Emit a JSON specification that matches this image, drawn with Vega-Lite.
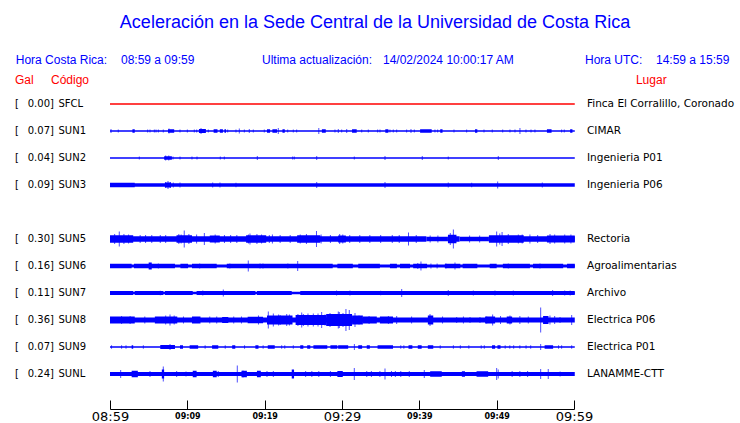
{
"$schema": "https://vega.github.io/schema/vega-lite/v6.json",
"width": 464,
"height": 297,
"autosize": {"type": "none"},
"padding": {"left": 110, "top": 90.5, "right": 166, "bottom": 35.5},
"background": "white",
"title": {"text": "Aceleración en la Sede Central de la Universidad de Costa Rica", "color": "#0000ff", "font": "Liberation Sans", "fontSize": 18, "fontWeight": "normal", "anchor": "middle", "frame": "group", "dx": 33, "offset": 22},
"config": {"view": {"stroke": null}, "font": "DejaVu Sans"},
"datasets": {
"seg": [
{"s":"SFCL","t0":0,"t1":60.1,"a":1.3},
{"s":"SUN1","t0":0,"t1":60.1,"a":1.5},{"s":"SUN1","t0":2.9,"t1":3.2,"a":3.5},{"s":"SUN1","t0":7.5,"t1":8.3,"a":3.5},{"s":"SUN1","t0":11.5,"t1":12.4,"a":4},{"s":"SUN1","t0":13.4,"t1":13.9,"a":3.5},{"s":"SUN1","t0":14.2,"t1":14.6,"a":3.5},{"s":"SUN1","t0":14.8,"t1":15.0,"a":3.5},{"s":"SUN1","t0":20.3,"t1":20.7,"a":3.5},{"s":"SUN1","t0":21.0,"t1":21.6,"a":3.5},{"s":"SUN1","t0":22.3,"t1":22.6,"a":3.5},{"s":"SUN1","t0":27.4,"t1":27.9,"a":3.5},{"s":"SUN1","t0":31.3,"t1":31.9,"a":3.5},{"s":"SUN1","t0":35.6,"t1":36.0,"a":3.5},{"s":"SUN1","t0":40.1,"t1":41.6,"a":3.5},{"s":"SUN1","t0":42.7,"t1":43.0,"a":3.5},{"s":"SUN1","t0":47.2,"t1":47.5,"a":3.5},{"s":"SUN1","t0":56.5,"t1":57.1,"a":3.5},{"s":"SUN1","t0":59.5,"t1":59.8,"a":3.5},
{"s":"SUN2","t0":0,"t1":60.1,"a":1.3},{"s":"SUN2","t0":7.0,"t1":8.0,"a":3.5},
{"s":"SUN3","t0":0,"t1":60.1,"a":3.5},{"s":"SUN3","t0":0,"t1":3.2,"a":4.5},{"s":"SUN3","t0":7.1,"t1":7.9,"a":5},
{"s":"SUN5","t0":0,"t1":40.9,"a":5.5},{"s":"SUN5","t0":40.9,"t1":43.7,"a":4.5},{"s":"SUN5","t0":43.7,"t1":45.2,"a":5.5},{"s":"SUN5","t0":45.2,"t1":49.0,"a":4.5},{"s":"SUN5","t0":49.0,"t1":60.1,"a":5.5},{"s":"SUN5","t0":0,"t1":3.0,"a":7.5},{"s":"SUN5","t0":8.6,"t1":10.6,"a":7.5},{"s":"SUN5","t0":12.9,"t1":14.2,"a":7},{"s":"SUN5","t0":17.6,"t1":20.2,"a":7.5},{"s":"SUN5","t0":24.2,"t1":27.2,"a":7.5},{"s":"SUN5","t0":29.5,"t1":30.5,"a":7},{"s":"SUN5","t0":43.7,"t1":44.8,"a":8.5},{"s":"SUN5","t0":49.0,"t1":53.5,"a":7.5},{"s":"SUN5","t0":56.5,"t1":60.1,"a":7},
{"s":"SUN6","t0":0,"t1":60.1,"a":3},{"s":"SUN6","t0":0,"t1":2.8,"a":4.5},{"s":"SUN6","t0":3.1,"t1":8.4,"a":4.5},{"s":"SUN6","t0":9.1,"t1":10.1,"a":4.5},{"s":"SUN6","t0":10.6,"t1":13.8,"a":4.5},{"s":"SUN6","t0":15.1,"t1":28.8,"a":4.5},{"s":"SUN6","t0":29.4,"t1":31.4,"a":4.5},{"s":"SUN6","t0":32.1,"t1":34.9,"a":4.5},{"s":"SUN6","t0":36.2,"t1":37.1,"a":4.5},{"s":"SUN6","t0":37.5,"t1":38.8,"a":4.5},{"s":"SUN6","t0":39.2,"t1":41.0,"a":4.5},{"s":"SUN6","t0":43.3,"t1":45.3,"a":4.5},{"s":"SUN6","t0":45.6,"t1":47.5,"a":4.5},{"s":"SUN6","t0":49.1,"t1":50.0,"a":4.5},{"s":"SUN6","t0":50.8,"t1":54.3,"a":4.5},{"s":"SUN6","t0":54.7,"t1":58.6,"a":4.5},{"s":"SUN6","t0":59.1,"t1":60.1,"a":4.5},{"s":"SUN6","t0":5.0,"t1":5.4,"a":7},
{"s":"SUN7","t0":0,"t1":60.1,"a":2.5},{"s":"SUN7","t0":0,"t1":3.0,"a":4},{"s":"SUN7","t0":3.2,"t1":6.9,"a":4},{"s":"SUN7","t0":7.1,"t1":10.7,"a":4},{"s":"SUN7","t0":11.2,"t1":18.8,"a":4},{"s":"SUN7","t0":19.0,"t1":23.5,"a":4},{"s":"SUN7","t0":24.6,"t1":60.1,"a":4},
{"s":"SUN8","t0":0,"t1":60.1,"a":5},{"s":"SUN8","t0":0,"t1":3.2,"a":7},{"s":"SUN8","t0":5.8,"t1":8.7,"a":7},{"s":"SUN8","t0":10.6,"t1":11.7,"a":7},{"s":"SUN8","t0":14.5,"t1":15.3,"a":6},{"s":"SUN8","t0":17.8,"t1":19.8,"a":6.5},{"s":"SUN8","t0":20.3,"t1":23.6,"a":9},{"s":"SUN8","t0":24.0,"t1":28.0,"a":10},{"s":"SUN8","t0":28.0,"t1":31.3,"a":12},{"s":"SUN8","t0":31.3,"t1":32.7,"a":9},{"s":"SUN8","t0":32.7,"t1":34.5,"a":7},{"s":"SUN8","t0":34.9,"t1":36.6,"a":7},{"s":"SUN8","t0":41.1,"t1":41.8,"a":9},{"s":"SUN8","t0":48.5,"t1":49.8,"a":7},{"s":"SUN8","t0":51.3,"t1":52.0,"a":7},{"s":"SUN8","t0":56.0,"t1":56.7,"a":8},
{"s":"SUN9","t0":0,"t1":60.1,"a":1.5},{"s":"SUN9","t0":2.8,"t1":3.0,"a":3.5},{"s":"SUN9","t0":6.5,"t1":8.4,"a":4},{"s":"SUN9","t0":9.05,"t1":9.44,"a":3.5},{"s":"SUN9","t0":10.3,"t1":11.4,"a":3.5},{"s":"SUN9","t0":13.2,"t1":14.0,"a":3.5},{"s":"SUN9","t0":15.8,"t1":16.2,"a":3.5},{"s":"SUN9","t0":18.8,"t1":19.2,"a":3.5},{"s":"SUN9","t0":20.4,"t1":21.3,"a":3.5},{"s":"SUN9","t0":24.6,"t1":25.0,"a":3.5},{"s":"SUN9","t0":25.5,"t1":25.9,"a":3.5},{"s":"SUN9","t0":26.3,"t1":28.1,"a":3.5},{"s":"SUN9","t0":28.5,"t1":29.4,"a":3.5},{"s":"SUN9","t0":29.5,"t1":30.8,"a":3.5},{"s":"SUN9","t0":32.1,"t1":32.6,"a":3.5},{"s":"SUN9","t0":33.2,"t1":33.6,"a":3.5},{"s":"SUN9","t0":34.6,"t1":36.6,"a":3.5},{"s":"SUN9","t0":38.6,"t1":39.1,"a":3.5},{"s":"SUN9","t0":39.8,"t1":40.3,"a":3.5},{"s":"SUN9","t0":41.1,"t1":41.8,"a":3.5},{"s":"SUN9","t0":49.4,"t1":49.8,"a":3.5},{"s":"SUN9","t0":50.1,"t1":50.5,"a":3.5},{"s":"SUN9","t0":56.2,"t1":57.3,"a":3.5},
{"s":"SUNL","t0":0,"t1":60.1,"a":4},{"s":"SUNL","t0":2.8,"t1":3.6,"a":6.5},{"s":"SUNL","t0":6.7,"t1":7.0,"a":9},{"s":"SUNL","t0":10.7,"t1":11.2,"a":6.5},{"s":"SUNL","t0":13.3,"t1":13.8,"a":6.5},{"s":"SUNL","t0":17.0,"t1":17.7,"a":6.5},{"s":"SUNL","t0":19.0,"t1":19.5,"a":6.5},{"s":"SUNL","t0":23.5,"t1":23.8,"a":9},{"s":"SUNL","t0":29.4,"t1":30.1,"a":6},{"s":"SUNL","t0":41.4,"t1":42.9,"a":5.5},{"s":"SUNL","t0":45.5,"t1":45.9,"a":5.5},{"s":"SUNL","t0":47.4,"t1":48.9,"a":5.5}
],
"spk": [
{"s":"SUN1","t":0.13,"a":4},{"s":"SUN1","t":1.07,"a":3},{"s":"SUN1","t":4.87,"a":3},{"s":"SUN1","t":5.17,"a":3},{"s":"SUN1","t":5.73,"a":3},{"s":"SUN1","t":5.95,"a":3},{"s":"SUN1","t":6.25,"a":3},{"s":"SUN1","t":6.89,"a":3},{"s":"SUN1","t":7.63,"a":5},{"s":"SUN1","t":9.05,"a":3},{"s":"SUN1","t":10.0,"a":3},{"s":"SUN1","t":10.9,"a":3},{"s":"SUN1","t":11.21,"a":3},{"s":"SUN1","t":11.77,"a":6},{"s":"SUN1","t":12.71,"a":3},{"s":"SUN1","t":15.22,"a":3},{"s":"SUN1","t":16.29,"a":3},{"s":"SUN1","t":16.72,"a":5},{"s":"SUN1","t":17.37,"a":3},{"s":"SUN1","t":18.01,"a":4},{"s":"SUN1","t":18.53,"a":3},{"s":"SUN1","t":19.95,"a":3},{"s":"SUN1","t":21.76,"a":6},{"s":"SUN1","t":22.98,"a":3},{"s":"SUN1","t":23.7,"a":3},{"s":"SUN1","t":24.14,"a":3},{"s":"SUN1","t":27.0,"a":6},{"s":"SUN1","t":29.09,"a":3},{"s":"SUN1","t":29.52,"a":4},{"s":"SUN1","t":29.96,"a":3},{"s":"SUN1","t":30.61,"a":4},{"s":"SUN1","t":32.55,"a":3},{"s":"SUN1","t":33.4,"a":3},{"s":"SUN1","t":34.61,"a":3},{"s":"SUN1","t":34.91,"a":3},{"s":"SUN1","t":36.2,"a":3},{"s":"SUN1","t":36.63,"a":3},{"s":"SUN1","t":37.07,"a":3},{"s":"SUN1","t":38.36,"a":3},{"s":"SUN1","t":38.92,"a":4},{"s":"SUN1","t":39.35,"a":3},{"s":"SUN1","t":42.02,"a":3},{"s":"SUN1","t":42.37,"a":3},{"s":"SUN1","t":44.48,"a":3},{"s":"SUN1","t":46.12,"a":3},{"s":"SUN1","t":48.36,"a":3},{"s":"SUN1","t":49.43,"a":3},{"s":"SUN1","t":50.78,"a":3},{"s":"SUN1","t":51.72,"a":3},{"s":"SUN1","t":52.37,"a":3},{"s":"SUN1","t":53.01,"a":6},{"s":"SUN1","t":53.79,"a":3},{"s":"SUN1","t":54.44,"a":3},{"s":"SUN1","t":54.95,"a":3},{"s":"SUN1","t":58.4,"a":3},{"s":"SUN1","t":58.74,"a":3},
{"s":"SUN2","t":3.79,"a":3},{"s":"SUN2","t":7.2,"a":5},{"s":"SUN2","t":7.6,"a":5},{"s":"SUN2","t":8.15,"a":3},{"s":"SUN2","t":9.05,"a":3},{"s":"SUN2","t":10.6,"a":3},{"s":"SUN2","t":11.25,"a":3},{"s":"SUN2","t":14.26,"a":3},{"s":"SUN2","t":14.78,"a":3},{"s":"SUN2","t":19.05,"a":4},{"s":"SUN2","t":23.62,"a":3},{"s":"SUN2","t":23.83,"a":3},{"s":"SUN2","t":26.73,"a":4},{"s":"SUN2","t":31.59,"a":3},{"s":"SUN2","t":35.56,"a":4},{"s":"SUN2","t":40.38,"a":4},{"s":"SUN2","t":43.74,"a":3},{"s":"SUN2","t":50.21,"a":4},
{"s":"SUN3","t":7.2,"a":6},{"s":"SUN3","t":7.5,"a":8},{"s":"SUN3","t":7.8,"a":6},{"s":"SUN3","t":8.18,"a":5},{"s":"SUN3","t":9.05,"a":5},{"s":"SUN3","t":13.28,"a":5},{"s":"SUN3","t":14.22,"a":5},{"s":"SUN3","t":16.29,"a":4.5},{"s":"SUN3","t":26.73,"a":6},{"s":"SUN3","t":35.56,"a":6},{"s":"SUN3","t":43.74,"a":5},{"s":"SUN3","t":46.77,"a":4.5},{"s":"SUN3","t":50.13,"a":7},{"s":"SUN3","t":55.9,"a":5},
{"s":"SUN5","t":1.2,"a":15},{"s":"SUN5","t":9.6,"a":17},{"s":"SUN5","t":12.2,"a":12},{"s":"SUN5","t":18.1,"a":11},{"s":"SUN5","t":26.7,"a":16},{"s":"SUN5","t":38.6,"a":13},{"s":"SUN5","t":44.4,"a":19},{"s":"SUN5","t":50.0,"a":15},{"s":"SUN5","t":50.7,"a":14},{"s":"SUN5","t":56.9,"a":10},{"s":"SUN5","t":0.6,"a":10},{"s":"SUN5","t":1.8,"a":10},{"s":"SUN5","t":2.4,"a":9},{"s":"SUN5","t":3.9,"a":8},{"s":"SUN5","t":6.5,"a":8},{"s":"SUN5","t":8.9,"a":10},{"s":"SUN5","t":9.2,"a":9},{"s":"SUN5","t":10.2,"a":10},{"s":"SUN5","t":13.6,"a":9},{"s":"SUN5","t":15.6,"a":8},{"s":"SUN5","t":17.9,"a":9},{"s":"SUN5","t":19.0,"a":10},{"s":"SUN5","t":19.6,"a":9},{"s":"SUN5","t":21.0,"a":9},{"s":"SUN5","t":22.0,"a":8},{"s":"SUN5","t":24.6,"a":9},{"s":"SUN5","t":25.4,"a":10},{"s":"SUN5","t":27.3,"a":9},{"s":"SUN5","t":28.5,"a":8},{"s":"SUN5","t":29.7,"a":10},{"s":"SUN5","t":30.1,"a":9},{"s":"SUN5","t":32.3,"a":8},{"s":"SUN5","t":35.0,"a":8},{"s":"SUN5","t":36.5,"a":8},{"s":"SUN5","t":41.4,"a":7},{"s":"SUN5","t":44.0,"a":12},{"s":"SUN5","t":46.5,"a":7},{"s":"SUN5","t":50.4,"a":11},{"s":"SUN5","t":51.5,"a":10},{"s":"SUN5","t":52.8,"a":9},{"s":"SUN5","t":54.3,"a":9},{"s":"SUN5","t":57.5,"a":9},{"s":"SUN5","t":58.8,"a":9},{"s":"SUN5","t":59.6,"a":9},{"s":"SUN5","t":4.6,"a":8},{"s":"SUN5","t":5.4,"a":8},{"s":"SUN5","t":7.2,"a":8},{"s":"SUN5","t":11.2,"a":9},{"s":"SUN5","t":14.8,"a":8},{"s":"SUN5","t":16.4,"a":8},{"s":"SUN5","t":20.6,"a":8},{"s":"SUN5","t":23.3,"a":8},{"s":"SUN5","t":31.0,"a":8},{"s":"SUN5","t":33.6,"a":8},{"s":"SUN5","t":37.4,"a":8},{"s":"SUN5","t":39.6,"a":8},{"s":"SUN5","t":42.4,"a":7},{"s":"SUN5","t":47.8,"a":7},{"s":"SUN5","t":53.3,"a":9},{"s":"SUN5","t":55.3,"a":8},
{"s":"SUN6","t":6.25,"a":5},{"s":"SUN6","t":17.88,"a":11},{"s":"SUN6","t":19.4,"a":5},{"s":"SUN6","t":19.78,"a":5},{"s":"SUN6","t":24.27,"a":10},{"s":"SUN6","t":39.8,"a":6},{"s":"SUN6","t":40.21,"a":9},{"s":"SUN6","t":41.5,"a":5},{"s":"SUN6","t":42.3,"a":5},{"s":"SUN6","t":43.44,"a":5},{"s":"SUN6","t":44.61,"a":7},{"s":"SUN6","t":11.6,"a":5},{"s":"SUN6","t":15.5,"a":5},{"s":"SUN6","t":23.0,"a":5},{"s":"SUN6","t":51.5,"a":5},{"s":"SUN6","t":55.6,"a":5},
{"s":"SUN7","t":14.65,"a":7},{"s":"SUN7","t":12.0,"a":5},{"s":"SUN7","t":6.5,"a":4.5},{"s":"SUN7","t":31.03,"a":5},{"s":"SUN7","t":37.72,"a":8},{"s":"SUN7","t":43.74,"a":6},{"s":"SUN7","t":46.98,"a":5},{"s":"SUN7","t":49.78,"a":5},{"s":"SUN7","t":52.15,"a":5},{"s":"SUN7","t":57.24,"a":6},{"s":"SUN7","t":58.8,"a":5},{"s":"SUN7","t":59.5,"a":5},{"s":"SUN7","t":29.3,"a":5},{"s":"SUN7","t":35.0,"a":4.5},
{"s":"SUN8","t":7.76,"a":11},{"s":"SUN8","t":7.2,"a":9},{"s":"SUN8","t":8.3,"a":9},{"s":"SUN8","t":20.47,"a":17},{"s":"SUN8","t":21.12,"a":13},{"s":"SUN8","t":22.85,"a":12},{"s":"SUN8","t":24.79,"a":15},{"s":"SUN8","t":25.0,"a":12},{"s":"SUN8","t":26.29,"a":13},{"s":"SUN8","t":26.9,"a":13},{"s":"SUN8","t":27.37,"a":16},{"s":"SUN8","t":27.8,"a":11},{"s":"SUN8","t":28.45,"a":14},{"s":"SUN8","t":29.52,"a":17},{"s":"SUN8","t":29.65,"a":16},{"s":"SUN8","t":30.13,"a":14},{"s":"SUN8","t":30.51,"a":22},{"s":"SUN8","t":30.94,"a":20},{"s":"SUN8","t":31.68,"a":14},{"s":"SUN8","t":32.2,"a":9},{"s":"SUN8","t":37.07,"a":8},{"s":"SUN8","t":41.38,"a":12},{"s":"SUN8","t":44.83,"a":6},{"s":"SUN8","t":46.55,"a":6},{"s":"SUN8","t":47.84,"a":6},{"s":"SUN8","t":48.71,"a":7},{"s":"SUN8","t":49.48,"a":11},{"s":"SUN8","t":51.72,"a":9},{"s":"SUN8","t":54.09,"a":7},{"s":"SUN8","t":55.69,"a":25},{"s":"SUN8","t":56.89,"a":9},{"s":"SUN8","t":58.19,"a":6},{"s":"SUN8","t":59.7,"a":10},{"s":"SUN8","t":1.5,"a":8},{"s":"SUN8","t":2.6,"a":8},{"s":"SUN8","t":16.0,"a":7},{"s":"SUN8","t":12.9,"a":7},{"s":"SUN8","t":22.0,"a":10},{"s":"SUN8","t":23.2,"a":11},{"s":"SUN8","t":4.5,"a":7},{"s":"SUN8","t":9.5,"a":7},{"s":"SUN8","t":13.8,"a":7},{"s":"SUN8","t":17.0,"a":7},{"s":"SUN8","t":19.2,"a":9},{"s":"SUN8","t":33.5,"a":8},{"s":"SUN8","t":36.0,"a":8},{"s":"SUN8","t":39.0,"a":7},{"s":"SUN8","t":43.0,"a":7},{"s":"SUN8","t":45.7,"a":7},{"s":"SUN8","t":50.5,"a":8},{"s":"SUN8","t":53.0,"a":8},{"s":"SUN8","t":57.5,"a":8},{"s":"SUN8","t":21.8,"a":11},{"s":"SUN8","t":24.3,"a":12},{"s":"SUN8","t":25.6,"a":13},{"s":"SUN8","t":28.0,"a":12},
{"s":"SUN9","t":0.2,"a":3.5},{"s":"SUN9","t":1.5,"a":3.5},{"s":"SUN9","t":2.07,"a":3.5},{"s":"SUN9","t":4.31,"a":3.5},{"s":"SUN9","t":7.76,"a":6},{"s":"SUN9","t":12.3,"a":3.5},{"s":"SUN9","t":14.9,"a":3.5},{"s":"SUN9","t":17.4,"a":3.5},{"s":"SUN9","t":19.8,"a":3.5},{"s":"SUN9","t":22.2,"a":3.5},{"s":"SUN9","t":22.6,"a":3.5},{"s":"SUN9","t":23.7,"a":3.5},{"s":"SUN9","t":31.6,"a":6},{"s":"SUN9","t":37.6,"a":3.5},{"s":"SUN9","t":38.0,"a":3.5},{"s":"SUN9","t":42.7,"a":3.5},{"s":"SUN9","t":44.4,"a":3.5},{"s":"SUN9","t":45.3,"a":3.5},{"s":"SUN9","t":46.4,"a":3.5},{"s":"SUN9","t":48.0,"a":3.5},{"s":"SUN9","t":48.4,"a":3.5},{"s":"SUN9","t":51.1,"a":3.5},{"s":"SUN9","t":51.7,"a":3.5},{"s":"SUN9","t":52.2,"a":3.5},{"s":"SUN9","t":53.0,"a":3.5},{"s":"SUN9","t":53.8,"a":3.5},{"s":"SUN9","t":54.4,"a":3.5},{"s":"SUN9","t":55.69,"a":6},{"s":"SUN9","t":58.0,"a":3.5},{"s":"SUN9","t":58.4,"a":3.5},{"s":"SUN9","t":59.7,"a":3.5},
{"s":"SUNL","t":1.38,"a":8},{"s":"SUNL","t":5.17,"a":6},{"s":"SUNL","t":6.89,"a":15},{"s":"SUNL","t":8.62,"a":6},{"s":"SUNL","t":9.83,"a":5},{"s":"SUNL","t":14.0,"a":6},{"s":"SUNL","t":16.46,"a":17},{"s":"SUNL","t":17.2,"a":7},{"s":"SUNL","t":20.3,"a":6},{"s":"SUNL","t":21.12,"a":6},{"s":"SUNL","t":25.3,"a":6},{"s":"SUNL","t":26.1,"a":6},{"s":"SUNL","t":27.0,"a":6},{"s":"SUNL","t":28.5,"a":6},{"s":"SUNL","t":31.59,"a":12},{"s":"SUNL","t":33.2,"a":6},{"s":"SUNL","t":33.8,"a":6},{"s":"SUNL","t":34.9,"a":6},{"s":"SUNL","t":35.56,"a":11},{"s":"SUNL","t":36.4,"a":6},{"s":"SUNL","t":36.9,"a":6},{"s":"SUNL","t":37.6,"a":6},{"s":"SUNL","t":38.7,"a":6},{"s":"SUNL","t":40.64,"a":8},{"s":"SUNL","t":50.0,"a":12},{"s":"SUNL","t":50.2,"a":9},{"s":"SUNL","t":52.0,"a":6},{"s":"SUNL","t":53.0,"a":6},{"s":"SUNL","t":54.0,"a":6},{"s":"SUNL","t":55.69,"a":10},{"s":"SUNL","t":56.67,"a":10},{"s":"SUNL","t":58.2,"a":5}
],
"st": [
{"s":"SFCL","gal":0.00,"place":"Finca El Corralillo, Coronado"},
{"s":"SUN1","gal":0.07,"place":"CIMAR"},
{"s":"SUN2","gal":0.04,"place":"Ingenieria P01"},
{"s":"SUN3","gal":0.09,"place":"Ingenieria P06"},
{"s":"SUN5","gal":0.30,"place":"Rectoria"},
{"s":"SUN6","gal":0.16,"place":"Agroalimentarias"},
{"s":"SUN7","gal":0.11,"place":"Archivo"},
{"s":"SUN8","gal":0.36,"place":"Electrica P06"},
{"s":"SUN9","gal":0.07,"place":"Electrica P01"},
{"s":"SUNL","gal":0.24,"place":"LANAMME-CTT"}
]
},
"resolve": {"scale": {"y": "independent"}},
"layer": [
{
"layer": [
{
"data": {"name": "seg"},
"mark": {"type": "bar", "orient": "horizontal"},
"encoding": {
"x": {"field": "t0", "type": "quantitative", "scale": {"domain": [0, 60], "nice": false, "zero": false},
"axis": {"title": null, "values": [0,5,10,15,20,25,30,35,40,45,50,55,60], "labelExpr": "datum.value % 10 === 0 ? timeFormat(datetime(2024, 1, 14, 8, 59 + datum.value), '%H:%M') : ''", "tickSize": -9, "tickColor": "black", "domainColor": "black", "labelColor": "black", "labelFont": "DejaVu Sans", "labelFontSize": {"condition": {"test": "datum.value % 30 === 0", "value": 13}, "value": 8}, "labelFontWeight": {"condition": {"test": "datum.value % 30 === 0", "value": "normal"}, "value": "bold"}, "labelBaseline": "middle", "labelPadding": 16, "offset": 21.5, "grid": false, "labelFlush": false, "labelOverlap": false}},
"x2": {"field": "t1"},
"y": {"field": "s", "type": "nominal", "scale": {"type": "band", "domain": ["SFCL","SUN1","SUN2","SUN3","SUN4","SUN5","SUN6","SUN7","SUN8","SUN9","SUNL"], "paddingInner": 0, "paddingOuter": 0}, "axis": null},
"size": {"field": "a", "type": "quantitative", "scale": {"domain": [0, 30], "range": [0, 30]}, "legend": null},
"color": {"condition": {"test": "datum.s === 'SFCL'", "value": "#ff0000"}, "value": "#0000ff"}
}
},
{
"data": {"name": "spk"},
"mark": {"type": "tick", "orient": "vertical", "thickness": 1},
"encoding": {
"x": {"field": "t", "type": "quantitative"},
"y": {"field": "s", "type": "nominal"},
"size": {"field": "a", "type": "quantitative", "legend": null},
"color": {"value": "#0000ff"}
}
},
{
"data": {"name": "st"},
"mark": {"type": "text", "align": "left", "baseline": "middle", "font": "DejaVu Sans", "fontSize": 10, "color": "black"},
"encoding": {"x": {"datum": -12.28, "type": "quantitative"}, "y": {"field": "s", "type": "nominal"}, "text": {"value": "["}}
},
{
"data": {"name": "st"},
"mark": {"type": "text", "align": "right", "baseline": "middle", "font": "DejaVu Sans", "fontSize": 10, "color": "black"},
"encoding": {"x": {"datum": -7.76, "type": "quantitative"}, "y": {"field": "s", "type": "nominal"}, "text": {"field": "gal", "type": "quantitative", "format": ".2f"}}
},
{
"data": {"name": "st"},
"mark": {"type": "text", "align": "left", "baseline": "middle", "font": "DejaVu Sans", "fontSize": 10, "color": "black"},
"encoding": {"x": {"datum": -7.76, "type": "quantitative"}, "y": {"field": "s", "type": "nominal"}, "text": {"value": "]"}}
},
{
"data": {"name": "st"},
"mark": {"type": "text", "align": "left", "baseline": "middle", "font": "DejaVu Sans", "fontSize": 10, "color": "black"},
"encoding": {"x": {"datum": -6.66, "type": "quantitative"}, "y": {"field": "s", "type": "nominal"}, "text": {"field": "s", "type": "nominal"}}
},
{
"data": {"name": "st"},
"mark": {"type": "text", "align": "left", "baseline": "middle", "font": "DejaVu Sans", "fontSize": 10.5, "color": "black"},
"encoding": {"x": {"datum": 61.68, "type": "quantitative"}, "y": {"field": "s", "type": "nominal"}, "text": {"field": "place", "type": "nominal"}}
}
]
},
{
"layer": [
{"data": {"values": [{}]}, "mark": {"type": "text", "align": "left", "baseline": "middle", "font": "Liberation Sans", "fontSize": 12, "color": "#0000ff"},
 "encoding": {"x": {"datum": -12.19, "type": "quantitative"}, "y": {"datum": 12.13, "type": "quantitative", "scale": {"domain": [0, 11], "nice": false, "zero": false}, "axis": null}, "text": {"value": "Hora Costa Rica:"}}},
{"data": {"values": [{}]}, "mark": {"type": "text", "align": "left", "baseline": "middle", "font": "Liberation Sans", "fontSize": 12, "color": "#0000ff"},
 "encoding": {"x": {"datum": 1.42, "type": "quantitative"}, "y": {"datum": 12.13, "type": "quantitative"}, "text": {"value": "08:59 a 09:59"}}},
{"data": {"values": [{}]}, "mark": {"type": "text", "align": "left", "baseline": "middle", "font": "Liberation Sans", "fontSize": 12, "color": "#0000ff"},
 "encoding": {"x": {"datum": 19.65, "type": "quantitative"}, "y": {"datum": 12.13, "type": "quantitative"}, "text": {"value": "Ultima actualización:"}}},
{"data": {"values": [{}]}, "mark": {"type": "text", "align": "left", "baseline": "middle", "font": "Liberation Sans", "fontSize": 12, "color": "#0000ff"},
 "encoding": {"x": {"datum": 35.3, "type": "quantitative"}, "y": {"datum": 12.13, "type": "quantitative"}, "text": {"value": "14/02/2024 10:00:17 AM"}}},
{"data": {"values": [{}]}, "mark": {"type": "text", "align": "left", "baseline": "middle", "font": "Liberation Sans", "fontSize": 12, "color": "#0000ff"},
 "encoding": {"x": {"datum": 61.42, "type": "quantitative"}, "y": {"datum": 12.13, "type": "quantitative"}, "text": {"value": "Hora UTC:"}}},
{"data": {"values": [{}]}, "mark": {"type": "text", "align": "left", "baseline": "middle", "font": "Liberation Sans", "fontSize": 12, "color": "#0000ff"},
 "encoding": {"x": {"datum": 70.6, "type": "quantitative"}, "y": {"datum": 12.13, "type": "quantitative"}, "text": {"value": "14:59 a 15:59"}}},
{"data": {"values": [{}]}, "mark": {"type": "text", "align": "left", "baseline": "middle", "font": "Liberation Sans", "fontSize": 12, "color": "#ff0000"},
 "encoding": {"x": {"datum": -12.28, "type": "quantitative"}, "y": {"datum": 11.39, "type": "quantitative"}, "text": {"value": "Gal"}}},
{"data": {"values": [{}]}, "mark": {"type": "text", "align": "left", "baseline": "middle", "font": "Liberation Sans", "fontSize": 12, "color": "#ff0000"},
 "encoding": {"x": {"datum": -7.63, "type": "quantitative"}, "y": {"datum": 11.39, "type": "quantitative"}, "text": {"value": "Código"}}},
{"data": {"values": [{}]}, "mark": {"type": "text", "align": "left", "baseline": "middle", "font": "Liberation Sans", "fontSize": 12, "color": "#ff0000"},
 "encoding": {"x": {"datum": 68.01, "type": "quantitative"}, "y": {"datum": 11.39, "type": "quantitative"}, "text": {"value": "Lugar"}}}
]
}
]
}
